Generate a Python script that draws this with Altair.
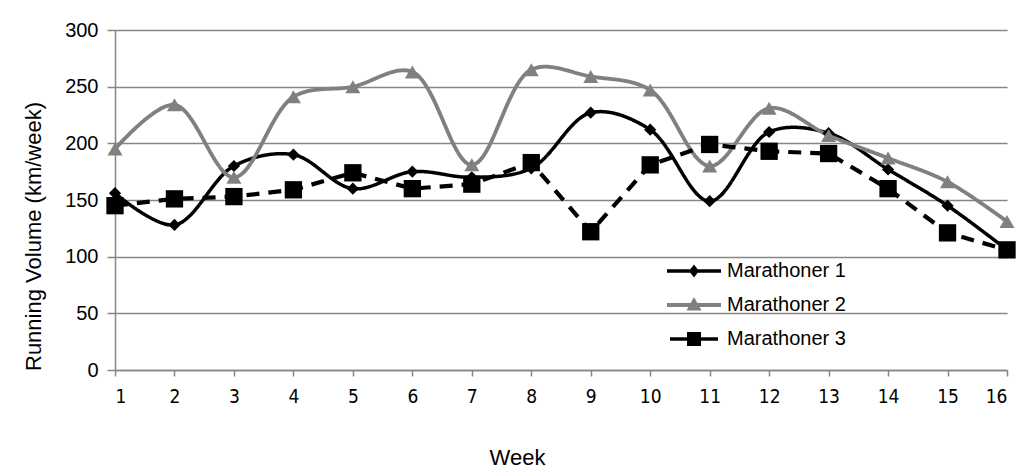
import altair as alt
import pandas as pd

weeks = list(range(1, 17))
m1 = [156, 128, 180, 190, 160, 175, 170, 178, 227, 212, 149, 210, 209, 177, 145, 106]
m2 = [195, 234, 170, 241, 250, 263, 181, 265, 259, 247, 180, 231, 207, 187, 166, 131]
m3 = [145, 151, 153, 159, 174, 160, 164, 183, 122, 181, 199, 193, 191, 160, 121, 106]
names = ["Marathoner 1", "Marathoner 2", "Marathoner 3"]
y_ticks = [0, 50, 100, 150, 200, 250, 300]

rows = []
for n, vals in zip(names, [m1, m2, m3]):
    for w, v in zip(weeks, vals):
        rows.append({"Week": w, "Volume": v, "Series": n})
df = pd.DataFrame(rows)

FONT = "Liberation Sans"
NARROW = "Liberation Sans Narrow, DejaVu Sans Condensed, Liberation Sans"

# legend symbol paths (line + marker), in units of the symbol radius
P1 = "M-2.7,-0.175H2.7V0.175H-2.7Z M0,-0.65L0.5,0L0,0.65L-0.5,0Z"
P2 = "M-2.7,-0.2H2.7V0.2H-2.7Z M0,-0.8L0.75,0.55H-0.75Z"
P3 = "M-2.4,-0.175H-0.5V0.175H-2.4Z M-0.7,-0.7H0.7V0.7H-0.7Z M0.5,-0.175H2.4V0.175H0.5Z"

legend = alt.Legend(
    title=None, orient="none", legendX=569, legendY=231, padding=0,
    labelFont=FONT, labelFontSize=20, labelColor="#000000", symbolSize=400,
    rowPadding=14, labelOffset=23, symbolStrokeWidth=0, symbolOpacity=1)

cscale = alt.Scale(domain=names, range=["#000000", "#808080", "#000000"])
color_noleg = alt.Color("Series:N", scale=cscale, legend=None)
color_leg = alt.Color("Series:N", scale=cscale, legend=legend)

x = alt.X("Week:Q", scale=alt.Scale(domain=[1, 16], nice=False),
          axis=alt.Axis(values=weeks, grid=False, title="Week", titleX=402, titleY=77,
                        labelFont=NARROW, labelFontSize=19, titleFont=FONT, titleFontSize=22,
                        titleFontWeight="normal", labelColor="#000", titleColor="#000",
                        domainColor="#868686", tickColor="#868686", domainWidth=1.5, tickWidth=1.5,
                        tickSize=6, labelPadding=11))
y = alt.Y("Volume:Q", scale=alt.Scale(domain=[0, 300], nice=False),
          axis=alt.Axis(values=y_ticks, title="Running Volume (km/week)", titleX=-70, titleY=206,
                        labelFont=FONT, labelFontSize=20, titleFont=FONT, titleFontSize=22,
                        titleFontWeight="normal", labelColor="#000", titleColor="#000",
                        domainColor="#868686", tickColor="#868686", gridColor="#868686",
                        gridWidth=1.5, domainWidth=1.5, tickWidth=1.5, tickSize=8,
                        labelPadding=9))

dash = alt.StrokeDash("Series:N", scale=alt.Scale(domain=names, range=[[1, 0], [1, 0], [13, 9]]), legend=None)
sw = alt.StrokeWidth("Series:N", scale=alt.Scale(domain=names, range=[3.5, 4.2, 3.5]), legend=None)
smooth = alt.Chart(df).transform_filter(alt.datum.Series != "Marathoner 3").mark_line(
    interpolate="catmull-rom").encode(x=x, y=y, color=color_noleg, strokeDash=dash, strokeWidth=sw)
straight = alt.Chart(df).transform_filter(alt.datum.Series == "Marathoner 3").mark_line().encode(
    x=x, y=y, color=color_noleg, strokeDash=dash, strokeWidth=sw)
pts = alt.Chart(df).mark_point(filled=True, opacity=1).encode(
    x=x, y=y, color=color_noleg,
    shape=alt.Shape("Series:N", scale=alt.Scale(domain=names, range=["diamond", "triangle-up", "square"]),
                    legend=None),
    size=alt.Size("Series:N", scale=alt.Scale(domain=names, range=[150, 300, 250]), legend=None))
# invisible layer that only carries the legend (line + marker symbols)
leg = alt.Chart(df).mark_point(filled=True, opacity=0).encode(
    x=x, y=y, color=color_leg,
    shape=alt.Shape("Series:N", scale=alt.Scale(domain=names, range=[P1, P2, P3]), legend=legend))

chart = alt.layer(smooth, straight, pts, leg).resolve_scale(
    shape="independent", color="independent").properties(
    width=892, height=340, autosize=alt.AutoSizeParams(type="none"),
    padding={"left": 107, "top": 22, "right": 17, "bottom": 104}, background="white"
).configure_view(stroke=None)

chart.save("out.html", embed_options={"renderer": "svg", "actions": False})
